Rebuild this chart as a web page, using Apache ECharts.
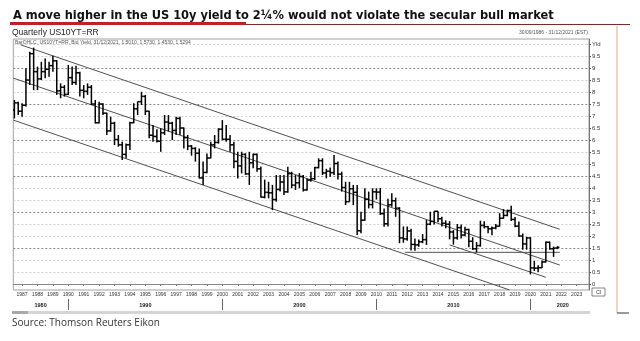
<!DOCTYPE html>
<html><head><meta charset="utf-8">
<script src="https://cdn.jsdelivr.net/npm/echarts/dist/echarts.min.js"></script>
<style>html,body{margin:0;padding:0;background:#fff}#c{width:640px;height:341px}</style>
</head><body><div id="c"></div>
<script>
// Quarterly OHLC bars, first bar = Q3 1986, last = Q4 2021
const firstQuarterStart = 1986.5;
const openVals = [7.25,7.55,7.20,7.45,8.50,9.60,8.85,8.55,8.85,8.95,9.10,9.30,8.05,8.20,7.90,8.60,8.40,8.80,8.07,8.03,
8.20,7.50,6.72,7.50,7.12,6.38,6.70,6.02,5.80,5.40,5.80,6.72,7.30,7.60,7.82,7.20,6.20,6.15,5.95,6.30,
6.75,6.70,6.40,6.90,6.50,6.10,5.75,5.65,5.45,4.42,4.65,5.25,5.80,5.90,6.45,6.03,6.03,5.80,5.11,4.92,
5.40,4.59,5.05,5.40,4.80,3.62,3.82,3.80,3.52,3.94,4.25,3.84,4.60,4.12,4.22,4.48,3.92,4.33,4.39,4.85,
5.14,4.63,4.70,4.64,5.02,4.58,4.02,3.43,3.97,3.82,2.22,2.66,3.53,3.31,3.84,3.83,2.93,2.51,3.30,3.47,
3.16,1.92,1.88,2.21,1.65,1.63,1.76,1.85,2.49,2.61,3.03,2.72,2.53,2.49,2.17,1.92,2.35,2.04,2.27,1.78,
1.47,1.60,2.44,2.39,2.30,2.33,2.41,2.74,2.86,3.06,2.69,2.41,2.00,1.67,1.92,0.67,0.66,0.68,0.92,1.74,
1.47,1.501];
const highVals = [7.67,7.60,7.53,8.99,9.68,9.85,9.06,9.26,9.40,9.26,9.51,9.33,8.36,8.29,9.13,9.06,9.10,8.85,8.29,8.36,
8.29,7.67,7.60,7.53,7.14,6.97,6.76,6.21,5.93,5.86,6.76,7.53,7.60,8.01,7.88,7.22,6.63,6.45,6.49,7.04,
7.04,6.76,6.97,6.97,6.52,6.21,5.79,5.70,5.65,5.10,5.44,5.93,6.21,6.49,6.83,6.63,6.21,5.93,5.51,5.51,
5.45,5.51,5.44,5.44,4.90,4.35,4.26,4.13,4.54,4.54,4.54,4.89,4.68,4.54,4.62,4.54,4.40,4.68,4.89,5.24,
5.24,4.80,4.85,5.38,5.10,4.68,4.26,4.26,4.13,4.13,3.01,3.99,3.85,3.99,3.99,4.00,3.15,3.55,3.78,3.60,
3.20,2.40,2.40,2.30,1.90,1.85,2.08,2.67,3.01,3.03,3.03,2.80,2.65,2.62,2.25,2.50,2.48,2.39,2.30,1.95,
1.75,2.64,2.62,2.42,2.40,2.50,2.95,3.12,3.10,3.26,2.79,2.60,2.10,1.97,1.95,0.96,0.78,0.98,1.77,1.77,
1.56,1.573];
const lowVals = [6.90,7.04,6.97,7.40,8.29,8.08,8.08,8.50,8.57,8.64,8.85,7.88,7.74,7.81,7.88,8.29,8.29,7.81,7.74,7.88,
7.46,6.69,6.69,7.04,6.21,6.35,5.79,5.72,5.17,5.24,5.58,6.70,7.04,7.46,7.04,6.07,5.93,5.90,5.51,6.21,
6.35,6.00,6.21,6.21,5.65,5.58,5.35,5.10,4.40,4.13,4.62,5.24,5.65,5.85,6.00,5.93,5.51,4.82,4.40,4.61,
4.55,4.13,4.82,4.68,3.60,3.57,3.57,3.08,3.43,3.85,3.71,3.80,3.99,3.92,3.99,3.85,3.90,4.26,4.33,4.82,
4.54,4.40,4.47,4.54,4.35,3.85,3.29,3.43,3.29,2.04,2.11,2.64,3.15,3.15,3.52,2.88,2.39,2.40,3.22,2.80,
1.70,1.72,1.80,1.40,1.39,1.55,1.70,1.63,2.45,2.48,2.57,2.40,2.32,1.86,1.64,1.85,1.90,1.99,1.53,1.42,
1.32,1.56,2.31,2.11,2.03,2.28,2.40,2.72,2.82,2.63,2.37,1.97,1.43,1.43,0.40,0.54,0.50,0.67,0.90,1.43,
1.13,1.453];
const closeVals = [7.55,7.20,7.45,8.50,9.60,8.85,8.55,8.85,8.95,9.10,9.30,8.05,8.20,7.90,8.60,8.40,8.80,8.07,8.03,8.20,
7.50,6.72,7.50,7.12,6.38,6.70,6.02,5.80,5.40,5.80,6.72,7.30,7.60,7.82,7.20,6.20,6.15,5.95,6.30,6.75,
6.70,6.40,6.90,6.50,6.10,5.75,5.65,5.45,4.42,4.65,5.25,5.80,5.90,6.45,6.03,6.03,5.80,5.11,4.92,5.40,
4.59,5.05,5.40,4.80,3.62,3.82,3.80,3.52,3.94,4.25,3.84,4.60,4.12,4.22,4.48,3.92,4.33,4.39,4.85,5.14,
4.63,4.70,4.64,5.02,4.58,4.02,3.43,3.97,3.82,2.22,2.66,3.53,3.31,3.84,3.83,2.93,2.51,3.30,3.47,3.16,
1.92,1.88,2.21,1.65,1.63,1.76,1.85,2.49,2.61,3.03,2.72,2.53,2.49,2.17,1.92,2.35,2.04,2.27,1.78,1.47,
1.60,2.44,2.39,2.30,2.33,2.41,2.74,2.86,3.06,2.69,2.41,2.00,1.67,1.92,0.67,0.66,0.68,0.92,1.74,1.47,
1.49,1.5294];

// Trend / channel lines [year, yield]
const upperChannel = [[1986.9, 9.97], [2021.9, 2.28]];
const middleChannel = [[1986.43, 8.58], [2021.9, 0.79]];
const lowerChannel = [[1986.43, 6.83], [2018.65, -0.25]];
const recentChannel = [[2014.75, 1.63], [2021.0, 0.28]];
const supportLine = [[2011.85, 1.32], [2021.9, 1.32]];

// Axis ticks / labels
const yearTicks = [1987,1988,1989,1990,1991,1992,1993,1994,1995,1996,1997,1998,1999,2000,2001,2002,2003,2004,2005,
2006,2007,2008,2009,2010,2011,2012,2013,2014,2015,2016,2017,2018,2019,2020,2021,2022,2023];
const decadeTicks = [1990, 2000, 2010, 2020];
const decadeLabelPos = [1988.2, 1995, 2005, 2015, 2022.1];
const yTicks = [0,0.5,1,1.5,2,2.5,3,3.5,4,4.5,5,5.5,6,6.5,7,7.5,8,8.5,9,9.5,10];
const lastValue = 1.5294;

const ohlc = openVals.map((o, i) => [firstQuarterStart + i * 0.25, o, highVals[i], lowVals[i], closeVals[i]]);

const chart = echarts.init(document.getElementById('c'), null, {renderer: 'canvas'});
const trendStyle = {color: '#505050', width: 1};
function trend(data) {
  return {type: 'line', data: data, symbol: 'none', silent: true, lineStyle: trendStyle, z: 3, animation: false};
}
const sans = '"Liberation Sans", Arial, sans-serif';

chart.setOption({
  animation: false,
  backgroundColor: '#fff',
  title: {
    text: 'A move higher in the US 10y yield to 2\u00BC% would not violate the secular bull market',
    left: 8, top: 4,
    textStyle: {fontSize: 12.7, fontWeight: 'bold', color: '#111', fontFamily: '"Liberation Sans Narrow", "DejaVu Sans Condensed", sans-serif'}
  },
  grid: {left: 13.3, top: 39, width: 575.7, height: 251, show: true, borderColor: '#a0a0a0', borderWidth: 1,
         backgroundColor: '#fff', containLabel: false, outerBoundsMode: 'none'},
  xAxis: [{
    type: 'value', min: 1986.43, max: 2023.8, position: 'bottom',
    axisLine: {show: true, lineStyle: {color: '#888'}},
    axisTick: {show: true, length: 2, customValues: yearTicks, lineStyle: {color: '#777'}},
    axisLabel: {customValues: yearTicks, formatter: v => String(v), fontSize: 5, color: '#333', margin: 2, fontFamily: sans},
    splitLine: {show: false}
  }, {
    type: 'value', min: 1986.43, max: 2023.8, position: 'bottom', offset: 9,
    axisLine: {show: false},
    axisTick: {show: true, length: 11, customValues: decadeTicks, lineStyle: {color: '#666'}},
    axisLabel: {customValues: decadeLabelPos, formatter: v => String(Math.floor(v / 10) * 10),
                fontSize: 5.5, fontWeight: 'bold', color: '#222', margin: 3, fontFamily: sans},
    splitLine: {show: false}
  }],
  yAxis: {
    type: 'value', position: 'right', min: -0.25, max: 10.21,
    axisLine: {show: true, lineStyle: {color: '#777'}},
    axisTick: {show: true, length: 2, customValues: yTicks, lineStyle: {color: '#555'}},
    axisLabel: {customValues: yTicks, formatter: v => (v === 10 ? 'Yld' : String(v)),
                fontSize: 6, color: '#333', margin: 3, fontFamily: sans},
    splitLine: {show: true, lineStyle: {type: [2, 2], width: 1, color: ['#8a8a8a', '#cfcfcf', '#cfcfcf']}}
  },
  series: [{
    type: 'custom', data: ohlc, encode: {x: 0, y: [1, 2, 3, 4]}, clip: true, z: 4,
    renderItem: function (params, api) {
      const x = api.value(0);
      const pO = api.coord([x, api.value(1)]);
      const pH = api.coord([x, api.value(2)]);
      const pL = api.coord([x, api.value(3)]);
      const pC = api.coord([x, api.value(4)]);
      const st = {stroke: '#000', lineWidth: 1.5};
      return {type: 'group', children: [
        {type: 'line', shape: {x1: pH[0], y1: pH[1], x2: pL[0], y2: pL[1]}, style: st},
        {type: 'line', shape: {x1: pO[0] - 2, y1: pO[1], x2: pO[0], y2: pO[1]}, style: st},
        {type: 'line', shape: {x1: pC[0], y1: pC[1], x2: pC[0] + 2, y2: pC[1]}, style: st}
      ]};
    }
  },
  trend(upperChannel), trend(middleChannel), trend(lowerChannel), trend(recentChannel),
  Object.assign(trend(supportLine), {
    markLine: {
      silent: true, symbol: 'none', animation: false,
      lineStyle: {opacity: 0},
      label: {show: true, position: 'end', distance: 2, formatter: () => lastValue.toFixed(4),
              backgroundColor: '#000', color: '#fff', fontSize: 6, padding: [1, 2], fontFamily: sans, fontWeight: 'bold'},
      data: [{yAxis: lastValue}]
    }
  })],
  graphic: [
    {type: 'rect', shape: {x: 10, y: 22, width: 236, height: 3}, style: {fill: '#c0202a'}},
    {type: 'rect', shape: {x: 246, y: 24, width: 384, height: 1}, style: {fill: '#7a2a2a'}},
    {type: 'text', x: 12, y: 33, style: {text: 'Quarterly US10YT=RR', fontSize: 8.5, fill: '#222', fontFamily: sans, verticalAlign: 'middle'}},
    {type: 'text', x: 588, y: 33, style: {text: '30/09/1986 - 31/12/2021 (EST)', fontSize: 5, fill: '#555', fontFamily: sans, align: 'right', verticalAlign: 'middle'}},
    {type: 'text', x: 15, y: 43, z: 10, style: {text: 'BarOHLC, US10YT=RR, Bid Yield, 31/12/2021, 1.5010, 1.5730, 1.4530, 1.5294', fontSize: 5, fill: '#555', fontFamily: sans, verticalAlign: 'middle'}},
    {type: 'rect', shape: {x: 592, y: 288, width: 13, height: 8}, style: {fill: '#fff', stroke: '#666', lineWidth: 0.8}},
    {type: 'text', x: 598.5, y: 292, style: {text: 'Cl', fontSize: 5.5, fill: '#333', fontFamily: sans, align: 'center', verticalAlign: 'middle'}},
    {type: 'rect', shape: {x: 12, y: 311, width: 578, height: 3}, style: {fill: '#d4d4d4'}},
    {type: 'rect', shape: {x: 12, y: 311, width: 16, height: 3}, style: {fill: '#a8a8a8'}},
    {type: 'rect', shape: {x: 616, y: 26, width: 2, height: 287}, style: {fill: '#f1d3c4'}},
    {type: 'rect', shape: {x: 617, y: 312.5, width: 12, height: 1}, style: {fill: '#333'}},
    {type: 'text', x: 12, y: 323, style: {text: 'Source: Thomson Reuters Eikon', fontSize: 10, fill: '#333', fontFamily: '"Open Sans", "Noto Sans", sans-serif', verticalAlign: 'middle'}}
  ]
});
</script></body></html>
